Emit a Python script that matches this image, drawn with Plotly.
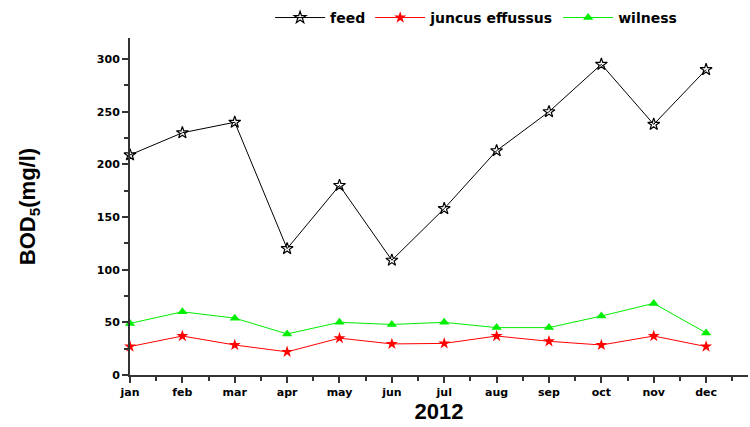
import plotly.graph_objects as go

months = ["jan", "feb", "mar", "apr", "may", "jun", "jul", "aug", "sep", "oct", "nov", "dec"]
feed = [209, 230, 240, 120, 180, 109, 158, 213, 250, 295, 238, 290]
juncus = [27, 37, 28.5, 22, 35, 29.5, 30, 37, 32, 28.5, 37, 27]
wilness = [49, 60, 54, 39, 50, 48, 50, 45, 45, 56, 68, 40]

x = list(range(len(months)))

fig = go.Figure()
fig.add_trace(go.Scatter(x=x, y=feed, name="feed", mode="lines+markers",
                         line=dict(color="black", width=1),
                         marker=dict(symbol="star-open", size=9, color="black", line=dict(width=1.2)),
                         cliponaxis=False))
fig.add_trace(go.Scatter(x=x, y=juncus, name="juncus effussus", mode="lines+markers",
                         line=dict(color="red", width=1),
                         marker=dict(symbol="star", size=9, color="red"),
                         cliponaxis=False))
fig.add_trace(go.Scatter(x=x, y=wilness, name="wilness", mode="lines+markers",
                         line=dict(color="#00ee00", width=1),
                         marker=dict(symbol="triangle-up", size=9, color="#00ee00"),
                         cliponaxis=False))

tickfont = dict(family="DejaVu Sans", size=11, color="black", weight="bold")

fig.update_layout(
    width=750, height=427,
    margin=dict(l=130, r=2, t=38, b=52),
    plot_bgcolor="white", paper_bgcolor="white",
    showlegend=True,
    legend=dict(orientation="h", x=0.56, y=0.958, xanchor="center", yanchor="middle",
                yref="container", font=dict(family="DejaVu Sans", size=14, color="black", weight="bold"),
                bgcolor="rgba(0,0,0,0)", itemwidth=50, tracegroupgap=0),
    xaxis=dict(range=[0, 11.8], tickvals=x, ticktext=months, showgrid=False, zeroline=False,
               automargin=False,
               showline=True, linecolor="#333333", linewidth=2, ticks="outside", ticklen=6,
               tickwidth=1.5, tickcolor="#333333", tickfont=tickfont,
               minor=dict(ticks="outside", dtick=0.5, tick0=0, ticklen=4, tickcolor="#333333", tickwidth=1.5),
               title=dict(text="2012", font=dict(family="Liberation Sans", size=22, color="black", weight="bold"),
                          standoff=4)),
    yaxis=dict(range=[0, 320], tickvals=[0, 50, 100, 150, 200, 250, 300], showgrid=False, zeroline=False,
               automargin=False,
               showline=True, linecolor="#333333", linewidth=2, ticks="outside", ticklen=6,
               tickwidth=1.5, tickcolor="#333333", tickfont=tickfont,
               minor=dict(ticks="outside", dtick=25, tick0=0, ticklen=4, tickcolor="#333333", tickwidth=1.5),
               title=dict(text="BOD<sub>5</sub>(mg/l)", font=dict(family="Liberation Sans", size=22, color="black", weight="bold"),
                          standoff=55)),
)

fig.write_html("out.html", config={"displayModeBar": False},
               post_script="document.body.style.margin='0';document.body.style.overflow='hidden';")
